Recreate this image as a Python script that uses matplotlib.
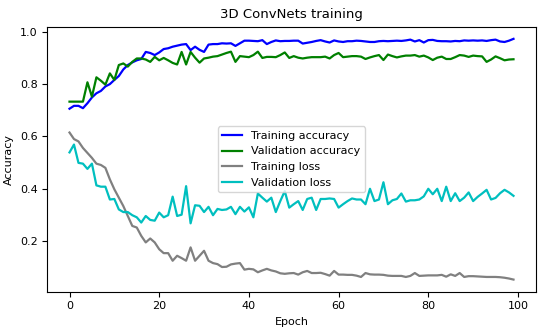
import matplotlib
matplotlib.use("Agg")
import matplotlib.pyplot as plt
import numpy as np

# valores (100 epocas)
epochs = np.arange(100)

train_acc = [0.705, 0.716, 0.716, 0.707, 0.726, 0.748, 0.764, 0.773, 0.790, 0.799,
             0.815, 0.830, 0.855, 0.872, 0.882, 0.890, 0.895, 0.922, 0.918, 0.910,
             0.920, 0.933, 0.936, 0.942, 0.946, 0.950, 0.952, 0.929, 0.942, 0.930,
             0.922, 0.950, 0.952, 0.952, 0.955, 0.954, 0.955, 0.945, 0.955, 0.965,
             0.965, 0.964, 0.963, 0.967, 0.952, 0.960, 0.966, 0.963, 0.964, 0.964,
             0.965, 0.965, 0.954, 0.957, 0.960, 0.964, 0.967, 0.962, 0.958, 0.966,
             0.962, 0.960, 0.963, 0.963, 0.965, 0.964, 0.962, 0.960, 0.960, 0.963,
             0.964, 0.963, 0.964, 0.965, 0.964, 0.966, 0.969, 0.962, 0.967, 0.958,
             0.967, 0.968, 0.964, 0.963, 0.963, 0.962, 0.964, 0.963, 0.966, 0.965,
             0.966, 0.965, 0.966, 0.964, 0.967, 0.969, 0.962, 0.960, 0.965, 0.972]

val_acc = [0.732, 0.732, 0.732, 0.732, 0.806, 0.751, 0.825, 0.812, 0.797, 0.840,
           0.815, 0.872, 0.878, 0.866, 0.884, 0.897, 0.897, 0.893, 0.884, 0.903,
           0.890, 0.899, 0.890, 0.880, 0.874, 0.922, 0.874, 0.922, 0.900, 0.881,
           0.897, 0.900, 0.904, 0.906, 0.912, 0.918, 0.923, 0.884, 0.906, 0.904,
           0.902, 0.910, 0.923, 0.899, 0.903, 0.903, 0.902, 0.910, 0.920, 0.899,
           0.906, 0.900, 0.897, 0.900, 0.902, 0.902, 0.902, 0.904, 0.897, 0.910,
           0.918, 0.902, 0.904, 0.906, 0.906, 0.904, 0.895, 0.901, 0.906, 0.910,
           0.891, 0.912, 0.906, 0.901, 0.905, 0.908, 0.908, 0.910, 0.904, 0.908,
           0.901, 0.891, 0.900, 0.904, 0.895, 0.895, 0.902, 0.910, 0.908, 0.903,
           0.908, 0.906, 0.905, 0.884, 0.893, 0.905, 0.898, 0.890, 0.893, 0.894]

train_loss = [0.614, 0.589, 0.580, 0.555, 0.536, 0.517, 0.495, 0.490, 0.479, 0.435,
              0.397, 0.365, 0.333, 0.295, 0.257, 0.251, 0.219, 0.194, 0.209, 0.194,
              0.168, 0.153, 0.153, 0.124, 0.143, 0.134, 0.124, 0.175, 0.124, 0.143,
              0.162, 0.124, 0.115, 0.111, 0.100, 0.101, 0.110, 0.113, 0.115, 0.090,
              0.093, 0.091, 0.080, 0.087, 0.093, 0.087, 0.083, 0.076, 0.074, 0.076,
              0.077, 0.071, 0.080, 0.085, 0.077, 0.077, 0.078, 0.073, 0.067, 0.085,
              0.071, 0.071, 0.070, 0.070, 0.067, 0.062, 0.077, 0.072, 0.071, 0.071,
              0.070, 0.067, 0.066, 0.066, 0.066, 0.062, 0.066, 0.077, 0.066, 0.067,
              0.068, 0.068, 0.068, 0.070, 0.063, 0.072, 0.066, 0.077, 0.062, 0.065,
              0.065, 0.064, 0.063, 0.062, 0.062, 0.062, 0.061, 0.059, 0.056, 0.052]

val_loss = [0.538, 0.568, 0.498, 0.495, 0.475, 0.495, 0.412, 0.407, 0.407, 0.358,
            0.360, 0.320, 0.310, 0.310, 0.298, 0.290, 0.270, 0.295, 0.280, 0.277,
            0.308, 0.290, 0.298, 0.369, 0.295, 0.300, 0.409, 0.267, 0.336, 0.334,
            0.310, 0.330, 0.298, 0.322, 0.318, 0.320, 0.330, 0.302, 0.330, 0.312,
            0.328, 0.290, 0.381, 0.365, 0.350, 0.365, 0.310, 0.352, 0.390, 0.327,
            0.340, 0.352, 0.318, 0.360, 0.365, 0.318, 0.360, 0.360, 0.362, 0.360,
            0.327, 0.340, 0.352, 0.362, 0.358, 0.358, 0.340, 0.399, 0.352, 0.358,
            0.424, 0.340, 0.355, 0.360, 0.381, 0.350, 0.355, 0.355, 0.358, 0.370,
            0.399, 0.378, 0.399, 0.352, 0.407, 0.352, 0.382, 0.352, 0.365, 0.385,
            0.352, 0.368, 0.381, 0.395, 0.358, 0.364, 0.382, 0.395, 0.385, 0.372]

fig, ax = plt.subplots(figsize=(5.5, 3.31), dpi=100)
fig.subplots_adjust(left=0.086, right=0.974, top=0.919, bottom=0.119)

ax.plot(epochs, train_acc, color='b', lw=1.6, label='Training accuracy')
ax.plot(epochs, val_acc, color='g', lw=1.6, label='Validation accuracy')
ax.plot(epochs, train_loss, color='gray', lw=1.6, label='Training loss')
ax.plot(epochs, val_loss, color='c', lw=1.6, label='Validation loss')

ax.set_title('3D ConvNets training', fontsize=9.5)
ax.set_xlabel('Epoch', fontsize=8)
ax.set_ylabel('Accuracy', fontsize=8)
ax.tick_params(labelsize=8)
ax.set_yticks([0.2, 0.4, 0.6, 0.8, 1.0])
ax.legend(loc='center', fontsize=8, handlelength=1.8)

plt.savefig('out.png')
